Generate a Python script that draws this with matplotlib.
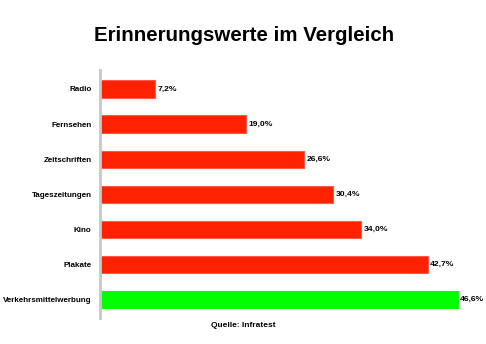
import matplotlib.pyplot as plt

plt.rcParams['font.family'] = ['Liberation Sans', 'DejaVu Sans']

categories = ['Radio', 'Fernsehen', 'Zeitschriften', 'Tageszeitungen',
              'Kino', 'Plakate', 'Verkehrsmittelwerbung']
values = [7.2, 19.0, 26.6, 30.4, 34.0, 42.7, 46.6]
labels = ['7,2%', '19,0%', '26,6%', '30,4%', '34,0%', '42,7%', '46,6%']

colors = ['#ff2200'] * 6 + ['#00ff00']
edges = ['#ff5a4a'] * 6 + ['#00ff00']

fig = plt.figure(figsize=(4.86, 3.44), dpi=100)
ax = fig.add_axes([0.2058, 0.0756, 0.79, 0.7209])

pos = list(range(len(categories)))
ax.barh(pos, values, height=0.49, color=colors, edgecolor=edges, linewidth=0.8)

for p, v, t in zip(pos, values, labels):
    ax.text(v + 0.3, p, t, va='center', ha='left', fontsize=6.1, fontweight='bold')

ax.set_xlim(0, 50)
ax.set_ylim(6.52, -0.54)
ax.set_yticks(pos)
ax.set_yticklabels(categories, fontsize=5.75, fontweight='bold')
ax.tick_params(axis='y', length=0, pad=6)
ax.set_xticks([])
for s in ['top', 'right', 'bottom']:
    ax.spines[s].set_visible(False)
ax.spines['left'].set_color('#c8c8c8')
ax.spines['left'].set_linewidth(2)

fig.text(0.502, 0.898, 'Erinnerungswerte im Vergleich', ha='center', va='center',
         fontsize=14.8, fontweight='bold')
fig.text(0.5, 0.055, 'Quelle: Infratest', ha='center', va='center',
         fontsize=6, fontweight='bold')

fig.savefig('out.png', dpi=100)
